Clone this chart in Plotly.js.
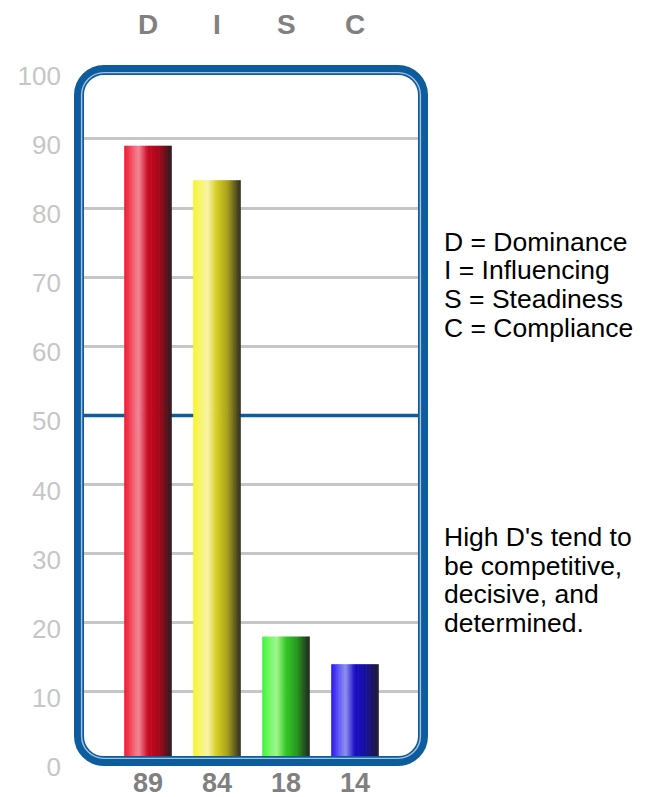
<!DOCTYPE html>
<html>
<head>
<meta charset="utf-8">
<script src="https://cdn.plot.ly/plotly-3.0.1.min.js"></script>
<style>
  html, body { margin: 0; padding: 0; background: #ffffff; }
  #chart { width: 651px; height: 797px; }
</style>
</head>
<body>
<div id="chart"></div>
<script>
// ---- data ----
const categories = ['D', 'I', 'S', 'C'];
const scores = [89, 84, 18, 14];
const yTicks = [0, 10, 20, 30, 40, 50, 60, 70, 80, 90, 100];
const gridVals = [10, 20, 30, 40, 60, 70, 80, 90];
const midLine = 50;
const legendLines = ['D = Dominance', 'I = Influencing', 'S = Steadiness', 'C = Compliance'];
const noteLines = ["High D's tend to", 'be competitive,', 'decisive, and', 'determined.'];

// ---- styles ----
const gradients = {
  D: [[0, '#f01832'], [0.12, '#f24456'], [0.3, '#f28898'], [0.5, '#c80a24'], [0.72, '#a80818'], [1, '#281c20']],
  I: [[0, '#f8f428'], [0.12, '#f8f460'], [0.3, '#f8f4a8'], [0.5, '#d4cc22'], [0.72, '#a8a01c'], [1, '#2c2a20']],
  S: [[0, '#3cf43c'], [0.12, '#6cf65c'], [0.3, '#a2f690'], [0.5, '#34c826'], [0.72, '#289a20'], [1, '#1e2420']],
  C: [[0, '#2a14f8'], [0.12, '#5448f4'], [0.3, '#9090f2'], [0.5, '#1a0cc4'], [0.72, '#18109c'], [1, '#201a30']]
};
const N = 30;
const barW = 0.69;

function hex2rgb(h) { return [parseInt(h.slice(1,3),16), parseInt(h.slice(3,5),16), parseInt(h.slice(5,7),16)]; }
function colorAt(stops, t) {
  for (let i = 0; i < stops.length - 1; i++) {
    const [t0, c0] = stops[i], [t1, c1] = stops[i+1];
    if (t >= t0 && t <= t1) {
      const f = (t - t0) / (t1 - t0);
      const a = hex2rgb(c0), b = hex2rgb(c1);
      return 'rgb(' + a.map((v, j) => Math.round(v + (b[j] - v) * f)).join(',') + ')';
    }
  }
  return stops[stops.length - 1][1];
}

const traces = [];
const stripW = barW / N;
for (let k = 0; k < N; k++) {
  const t = (k + 0.5) / N;
  traces.push({
    type: 'bar',
    x: categories,
    y: scores,
    width: k === N - 1 ? stripW : stripW * 1.4,
    offset: -barW / 2 + k * stripW,
    marker: { color: categories.map(c => colorAt(gradients[c], t)), line: { width: 0 } },
    hoverinfo: 'skip',
    showlegend: false
  });
}

// plot geometry (pixels) for border shape in paper coords
const W = 354, H = 701;
function roundRect(inset, r) {
  const x0 = inset / W, x1 = 1 - inset / W, y0 = inset / H, y1 = 1 - inset / H;
  const rx = r / W, ry = r / H, k = 0.5523;
  return 'M ' + (x0 + rx) + ',' + y1 +
    ' L ' + (x1 - rx) + ',' + y1 +
    ' C ' + (x1 - rx + rx * k) + ',' + y1 + ' ' + x1 + ',' + (y1 - ry + ry * k) + ' ' + x1 + ',' + (y1 - ry) +
    ' L ' + x1 + ',' + (y0 + ry) +
    ' C ' + x1 + ',' + (y0 + ry - ry * k) + ' ' + (x1 - rx + rx * k) + ',' + y0 + ' ' + (x1 - rx) + ',' + y0 +
    ' L ' + (x0 + rx) + ',' + y0 +
    ' C ' + (x0 + rx - rx * k) + ',' + y0 + ' ' + x0 + ',' + (y0 + ry - ry * k) + ' ' + x0 + ',' + (y0 + ry) +
    ' L ' + x0 + ',' + (y1 - ry) +
    ' C ' + x0 + ',' + (y1 - ry + ry * k) + ' ' + (x0 + rx - rx * k) + ',' + y1 + ' ' + (x0 + rx) + ',' + y1 + ' Z';
}

const FONT = 'Liberation Sans, Arial, Helvetica, sans-serif';
const annotations = [];
categories.forEach(c => annotations.push({
  x: c, xref: 'x', y: 1, yref: 'paper', yanchor: 'middle', yshift: 41,
  text: '<b>' + c + '</b>', showarrow: false,
  font: { family: FONT, size: 28, color: '#808080' }
}));
categories.forEach((c, i) => annotations.push({
  x: c, xref: 'x', y: 0, yref: 'paper', yanchor: 'middle', yshift: -17,
  text: '<b>' + scores[i] + '</b>', showarrow: false,
  font: { family: FONT, size: 27, color: '#808080' }, borderpad: 0
}));
const legY = [242, 270, 299, 328];
legendLines.forEach((s, i) => annotations.push({
  x: (442 - 74) / W, xref: 'paper', xanchor: 'left',
  y: (766 - legY[i]) / H, yref: 'paper', yanchor: 'middle',
  text: s, showarrow: false, font: { family: FONT, size: 26.5, color: '#000000' }
}));
const noteY = [537, 566, 594, 623];
noteLines.forEach((s, i) => annotations.push({
  x: (442 - 74) / W, xref: 'paper', xanchor: 'left',
  y: (766 - noteY[i]) / H, yref: 'paper', yanchor: 'middle',
  text: s, showarrow: false, font: { family: FONT, size: 26.5, color: '#000000' }
}));

const layout = {
  width: 651, height: 797,
  margin: { l: 74, r: 223, t: 65, b: 31, pad: 0 },
  paper_bgcolor: '#ffffff', plot_bgcolor: '#ffffff',
  barmode: 'overlay',
  showlegend: false,
  xaxis: {
    type: 'category',
    range: [-1.0725, 4.058],
    showticklabels: false,
    ticks: '', showgrid: false, zeroline: false, showline: false,
    fixedrange: true
  },
  yaxis: {
    range: [-0.723, 100.69],
    tickmode: 'array', tickvals: yTicks,
    tickfont: { family: FONT, size: 26, color: '#c6c6c6' },
    ticks: '', showgrid: false,
    minor: { tickmode: 'array', tickvals: gridVals, showgrid: true, gridcolor: '#c6c6c6', gridwidth: 3, ticks: '' },
    zeroline: false, showline: false,
    ticklabelstandoff: 12, ticklabelshift: 6, fixedrange: true
  },
  shapes: [
    { type: 'line', xref: 'paper', x0: 0, x1: 1, yref: 'y', y0: midLine, y1: midLine,
      line: { color: '#0d5c9e', width: 3.5 }, layer: 'below' },
    { type: 'path', xref: 'paper', yref: 'paper', path: roundRect(5, 25),
      line: { color: '#0d5c9e', width: 10 }, fillcolor: 'rgba(0,0,0,0)', layer: 'above' },
    { type: 'path', xref: 'paper', yref: 'paper', path: roundRect(7.6, 22.4),
      line: { color: '#a4c2de', width: 1.4 }, fillcolor: 'rgba(0,0,0,0)', layer: 'above' }
  ],
  annotations: annotations
};

Plotly.newPlot('chart', traces, layout, { displayModeBar: false, staticPlot: true });
</script>
</body>
</html>
